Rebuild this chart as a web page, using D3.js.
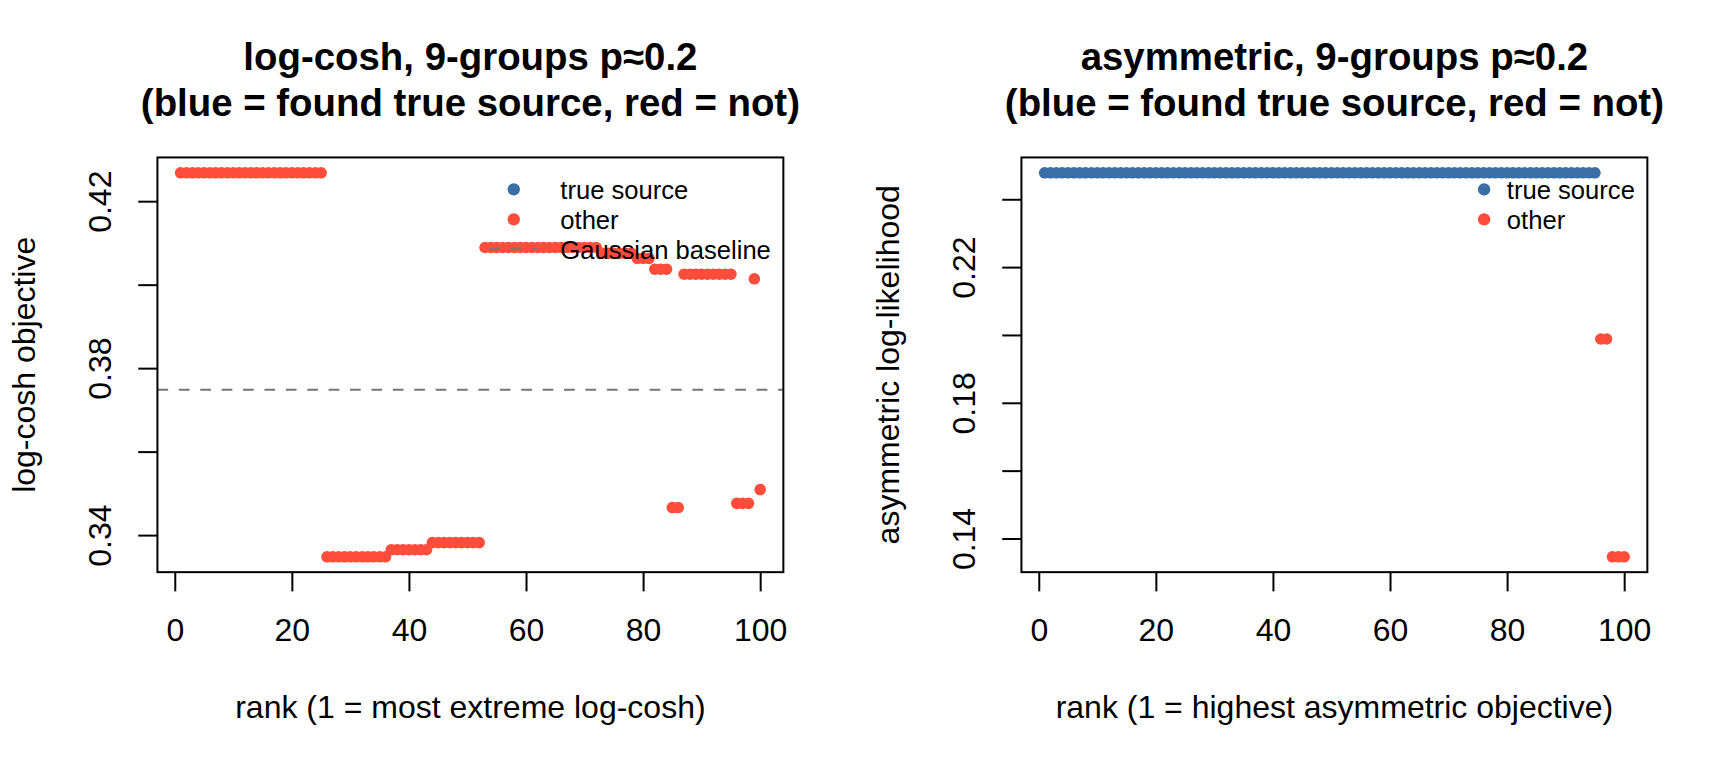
<!DOCTYPE html>
<html>
<head>
<meta charset="utf-8">
<script src="https://cdn.jsdelivr.net/npm/d3@7"></script>
<style>
  body { margin: 0; background: #fff; }
  svg { display: block; font-family: 'Liberation Sans', Arial, Helvetica, sans-serif; }
</style>
</head>
<body>
<svg></svg>
<script>
// log-cosh objective, by rank (1 = most extreme)
let lcValues = [
  0.4268, 0.4268, 0.4268, 0.4268, 0.4268, 0.4268, 0.4268, 0.4268, 0.4268, 0.4268,
  0.4268, 0.4268, 0.4268, 0.4268, 0.4268, 0.4268, 0.4268, 0.4268, 0.4268, 0.4268,
  0.4268, 0.4268, 0.4268, 0.4268, 0.4268, 0.3348, 0.3348, 0.3348, 0.3348, 0.3348,
  0.3348, 0.3348, 0.3348, 0.3348, 0.3348, 0.3348, 0.3365, 0.3365, 0.3365, 0.3365,
  0.3365, 0.3365, 0.3365, 0.3382, 0.3382, 0.3382, 0.3382, 0.3382, 0.3382, 0.3382,
  0.3382, 0.3382, 0.4089, 0.4089, 0.4089, 0.4089, 0.4089, 0.4089, 0.4089, 0.4089,
  0.4089, 0.4089, 0.4089, 0.4089, 0.4089, 0.4089, 0.4089, 0.4089, 0.4089, 0.4089,
  0.4089, 0.4089, 0.4075, 0.4075, 0.4075, 0.4075, 0.4075, 0.4075, 0.4063, 0.4063,
  0.4063, 0.4037, 0.4037, 0.4037, 0.3466, 0.3466, 0.4025, 0.4025, 0.4025, 0.4025,
  0.4025, 0.4025, 0.4025, 0.4025, 0.4025, 0.3476, 0.3476, 0.3476, 0.4014, 0.3509
]
// 1 = found true source
let lcFound = [
  0, 0, 0, 0, 0, 0, 0, 0, 0, 0,
  0, 0, 0, 0, 0, 0, 0, 0, 0, 0,
  0, 0, 0, 0, 0, 0, 0, 0, 0, 0,
  0, 0, 0, 0, 0, 0, 0, 0, 0, 0,
  0, 0, 0, 0, 0, 0, 0, 0, 0, 0,
  0, 0, 0, 0, 0, 0, 0, 0, 0, 0,
  0, 0, 0, 0, 0, 0, 0, 0, 0, 0,
  0, 0, 0, 0, 0, 0, 0, 0, 0, 0,
  0, 0, 0, 0, 0, 0, 0, 0, 0, 0,
  0, 0, 0, 0, 0, 0, 0, 0, 0, 0
]
let lcBaseline = 0.3748

// asymmetric log-likelihood, by rank (1 = highest)
let asValues = [
  0.2478, 0.2478, 0.2478, 0.2478, 0.2478, 0.2478, 0.2478, 0.2478, 0.2478, 0.2478,
  0.2478, 0.2478, 0.2478, 0.2478, 0.2478, 0.2478, 0.2478, 0.2478, 0.2478, 0.2478,
  0.2478, 0.2478, 0.2478, 0.2478, 0.2478, 0.2478, 0.2478, 0.2478, 0.2478, 0.2478,
  0.2478, 0.2478, 0.2478, 0.2478, 0.2478, 0.2478, 0.2478, 0.2478, 0.2478, 0.2478,
  0.2478, 0.2478, 0.2478, 0.2478, 0.2478, 0.2478, 0.2478, 0.2478, 0.2478, 0.2478,
  0.2478, 0.2478, 0.2478, 0.2478, 0.2478, 0.2478, 0.2478, 0.2478, 0.2478, 0.2478,
  0.2478, 0.2478, 0.2478, 0.2478, 0.2478, 0.2478, 0.2478, 0.2478, 0.2478, 0.2478,
  0.2478, 0.2478, 0.2478, 0.2478, 0.2478, 0.2478, 0.2478, 0.2478, 0.2478, 0.2478,
  0.2478, 0.2478, 0.2478, 0.2478, 0.2478, 0.2478, 0.2478, 0.2478, 0.2478, 0.2478,
  0.2478, 0.2478, 0.2478, 0.2478, 0.2478, 0.1988, 0.1988, 0.1346, 0.1346, 0.1346
]
let asFound = [
  1, 1, 1, 1, 1, 1, 1, 1, 1, 1,
  1, 1, 1, 1, 1, 1, 1, 1, 1, 1,
  1, 1, 1, 1, 1, 1, 1, 1, 1, 1,
  1, 1, 1, 1, 1, 1, 1, 1, 1, 1,
  1, 1, 1, 1, 1, 1, 1, 1, 1, 1,
  1, 1, 1, 1, 1, 1, 1, 1, 1, 1,
  1, 1, 1, 1, 1, 1, 1, 1, 1, 1,
  1, 1, 1, 1, 1, 1, 1, 1, 1, 1,
  1, 1, 1, 1, 1, 1, 1, 1, 1, 1,
  1, 1, 1, 1, 1, 0, 0, 0, 0, 0
]

let xTicks = [0, 20, 40, 60, 80, 100]
let lcYTicks = [0.34, 0.36, 0.38, 0.40, 0.42]
let lcYLabels = ['0.34', '', '0.38', '', '0.42']
let asYTicks = [0.14, 0.16, 0.18, 0.20, 0.22, 0.24]
let asYLabels = ['0.14', '', '0.18', '', '0.22', '']

let lcTitle = ['log-cosh, 9-groups p\u22480.2', '(blue = found true source, red = not)']
let asTitle = ['asymmetric, 9-groups p\u22480.2', '(blue = found true source, red = not)']
let lcXLabel = 'rank (1 = most extreme log-cosh)'
let asXLabel = 'rank (1 = highest asymmetric objective)'
let lcYLabel = 'log-cosh objective'
let asYLabel = 'asymmetric log-likelihood'
let lcLegend = ['true source', 'other', 'Gaussian baseline']
let asLegend = ['true source', 'other']

let blue = '#3b6ea5'
let red = '#ff4c3b'
let gray = '#757575'

let width = 1728
let height = 768
let panelW = 864
let line = 38.4
let marL = 4.1 * line
let marR = 2.1 * line
let marT = 4.1 * line
let marB = 5.1 * line
let tickLen = 0.5 * line
let fontSize = 32
let radius = 5.8

let svg = d3.select('svg')

let drawCanvas = () => {
  svg.attr('width', width)
     .attr('height', height)
}

// R style: extend the data range by 4% each side
let pad = ext => {
  let d = (ext[1] - ext[0]) * 0.04
  return [ext[0] - d, ext[1] + d]
}

let drawPanel = (offset, cfg) => {
  let g = svg.append('g').attr('transform', `translate(${offset},0)`)
  let left = marL
  let right = panelW - marR
  let top = marT
  let bottom = height - marB
  let cx = (left + right) / 2

  let xScale = d3.scaleLinear()
                 .domain(pad([1, cfg.values.length]))
                 .range([left, right])
  let yScale = d3.scaleLinear()
                 .domain(pad(d3.extent(cfg.values)))
                 .range([bottom, top])

  // baseline
  if (cfg.baseline !== undefined) {
    g.append('line')
     .attr('x1', left)
     .attr('x2', right)
     .attr('y1', yScale(cfg.baseline))
     .attr('y2', yScale(cfg.baseline))
     .attr('stroke', gray)
     .attr('stroke-width', 2)
     .attr('stroke-dasharray', '10.7,10.7')
  }

  // points
  g.selectAll('circle.pt')
   .data(cfg.values)
   .enter()
   .append('circle')
   .attr('class', 'pt')
   .attr('cx', (d, i) => xScale(i + 1))
   .attr('cy', d => yScale(d))
   .attr('r', radius)
   .attr('fill', (d, i) => cfg.found[i] ? blue : red)

  // x axis
  let xAxis = d3.axisBottom(xScale)
                .tickValues(xTicks)
                .tickSize(tickLen)
                .tickSizeOuter(0)
                .tickPadding(27.2)
  g.append('g')
   .attr('transform', `translate(0,${bottom})`)
   .call(xAxis)
   .call(a => a.select('.domain').remove())
   .call(a => a.selectAll('line').attr('stroke', '#000').attr('stroke-width', 2))
   .call(a => a.selectAll('text').attr('fill', '#000'))
   .attr('font-size', fontSize)
   .attr('font-family', null)

  // y axis, labels rotated like R
  let yAxis = d3.axisLeft(yScale)
                .tickValues(cfg.yTicks)
                .tickFormat((d, i) => cfg.yLabels[i])
                .tickSize(tickLen)
                .tickSizeOuter(0)
  g.append('g')
   .attr('transform', `translate(${left},0)`)
   .call(yAxis)
   .call(a => a.select('.domain').remove())
   .call(a => a.selectAll('line').attr('stroke', '#000').attr('stroke-width', 2))
   .call(a => a.selectAll('text')
               .attr('fill', '#000')
               .attr('x', 0)
               .attr('y', -1.2 * line)
               .attr('dy', null)
               .attr('text-anchor', 'middle')
               .attr('transform', 'rotate(-90)'))
   .attr('font-size', fontSize)
   .attr('font-family', null)

  // box
  g.append('rect')
   .attr('x', left)
   .attr('y', top)
   .attr('width', right - left)
   .attr('height', bottom - top)
   .attr('fill', 'none')
   .attr('stroke', '#000')
   .attr('stroke-width', 2)

  // titles
  g.selectAll('text.title')
   .data(cfg.title)
   .enter()
   .append('text')
   .attr('class', 'title')
   .attr('x', cx)
   .attr('y', (d, i) => 70 + i * 46)
   .attr('text-anchor', 'middle')
   .attr('font-weight', 'bold')
   .attr('font-size', 38.4)
   .text(d => d)

  g.append('text')
   .attr('x', cx)
   .attr('y', bottom + 3.8 * line)
   .attr('text-anchor', 'middle')
   .attr('font-size', fontSize)
   .text(cfg.xLabel)

  g.append('text')
   .attr('transform', `translate(${left - 3.2 * line},${(top + bottom) / 2}) rotate(-90)`)
   .attr('text-anchor', 'middle')
   .attr('font-size', fontSize)
   .text(cfg.yLabel)

  // legend, top right, no box
  let lg = g.append('g')
  let texts = lg.selectAll('text')
                .data(cfg.legend)
                .enter()
                .append('text')
                .attr('font-size', 25.6)
                .attr('y', (d, i) => top + 31.9 + i * 30 + 9.8)
                .text(d => d)
  let maxW = d3.max(texts.nodes(), n => n.getComputedTextLength())
  let textX = right - 12.5 - maxW
  texts.attr('x', textX)

  let hasLine = cfg.legend.length > 2
  let dotX = hasLine ? textX - 46.5 : textX - 22.7
  let legendColors = [blue, red]
  lg.selectAll('circle')
    .data(legendColors)
    .enter()
    .append('circle')
    .attr('cx', dotX)
    .attr('cy', (d, i) => top + 31.9 + i * 30)
    .attr('r', 6.2)
    .attr('fill', d => d)
  if (hasLine) {
    lg.append('line')
      .attr('x1', textX - 71.3)
      .attr('x2', textX - 23.2)
      .attr('y1', top + 31.9 + 60)
      .attr('y2', top + 31.9 + 60)
      .attr('stroke', gray)
      .attr('stroke-width', 2)
      .attr('stroke-dasharray', '10.7,10.7')
  }
}

drawCanvas()
drawPanel(0, {
  values: lcValues,
  found: lcFound,
  baseline: lcBaseline,
  yTicks: lcYTicks,
  yLabels: lcYLabels,
  title: lcTitle,
  xLabel: lcXLabel,
  yLabel: lcYLabel,
  legend: lcLegend
})
drawPanel(panelW, {
  values: asValues,
  found: asFound,
  yTicks: asYTicks,
  yLabels: asYLabels,
  title: asTitle,
  xLabel: asXLabel,
  yLabel: asYLabel,
  legend: asLegend
})
</script>
</body>
</html>
